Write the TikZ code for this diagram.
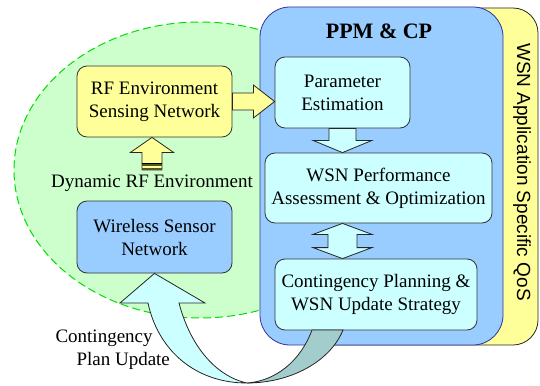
\documentclass[tikz,border=0pt]{standalone}
\usepackage{fontspec}
\setmainfont{Liberation Serif}
\newfontfamily\arialfont{Liberation Sans}
\usetikzlibrary{calc}
\definecolor{ellfill}{HTML}{CCFFCC}
\definecolor{elldraw}{HTML}{00DD00}
\definecolor{bluefill}{HTML}{99CCFF}
\definecolor{bluedraw}{HTML}{333399}
\definecolor{yelfill}{HTML}{FFFF99}
\definecolor{cyanfill}{HTML}{CCFFFF}
\definecolor{tealfill}{HTML}{A3CCCC}
\definecolor{stripe}{HTML}{555522}
\tikzset{
  txt/.style={font=\fontsize{19}{23}\selectfont, align=center},
  procbox/.style={txt, draw=black!80, line width=0.8pt, rounded corners=10pt, fill=cyanfill, inner sep=0pt},
  blockarrow/.style={draw=black!85, line width=0.8pt, line join=miter},
}
\begin{document}
\begin{tikzpicture}[x=1pt,y=-1pt]
\useasboundingbox (0,0) rectangle (540,385);
% dashed ellipse
\draw[fill=ellfill, draw=elldraw, line width=1pt, dash pattern=on 8pt off 4pt] (200,170) ellipse [x radius=186, y radius=148];
% yellow QoS box
\node[draw=black!85, line width=0.8pt, fill=yelfill, rounded corners=25pt, minimum width=238pt, minimum height=337pt, inner sep=0pt] (qos) at (419,176.5) {};
% blue PPM box
\node[draw=bluedraw, line width=0.8pt, fill=bluefill, rounded corners=30pt, minimum width=243pt, minimum height=338pt, inner sep=0pt] (ppm) at (381.5,176) {};
\node[font=\fontsize{22}{26}\selectfont\bfseries] (ppmlabel) at (379,31) {PPM \& CP};
\node[font=\arialfont\fontsize{19}{23}\selectfont, rotate=-90] (qoslabel) at (522,172) {WSN Application Specific QoS};
% boxes
\node[procbox, fill=yelfill, minimum width=155pt, minimum height=71pt] (rf) at (154.5,101.5) {RF Environment\\Sensing Network};
\node[procbox, fill=bluefill, minimum width=155pt, minimum height=72pt] (wsn) at (154.5,237) {Wireless Sensor\\Network};
\node[procbox, minimum width=135pt, minimum height=71pt] (param) at (342.5,92.5) {Parameter\\Estimation};
\node[procbox, minimum width=227pt, minimum height=70pt] (perf) at (378.5,188) {WSN Performance\\Assessment \& Optimization};
\node[procbox, minimum width=202pt, minimum height=71pt] (cont) at (376,294.5) {Contingency Planning \&\\WSN Update Strategy};
% RF -> Param
\draw[blockarrow, fill=yelfill] ($(rf.east)+(0,-8.5)$) -- ($(rf.east)+(21,-8.5)$) -- ($(rf.east)+(21,-16.5)$) -- (rf.east -| param.west) -- ($(rf.east)+(21,16.5)$) -- ($(rf.east)+(21,8.5)$) -- ($(rf.east)+(0,8.5)$) -- cycle;
% Param -> Perf
\draw[blockarrow, fill=cyanfill] ($(param.south)+(-13.5,0)$) -- ($(param.south)+(-13.5,12)$) -- ($(param.south)+(-29.5,12)$) -- (param.south |- perf.north) -- ($(param.south)+(29.5,12)$) -- ($(param.south)+(13.5,12)$) -- ($(param.south)+(13.5,0)$) -- cycle;
% Perf <-> Cont
\coordinate (dt) at (param.south |- perf.south);
\coordinate (db) at (param.south |- cont.north);
\draw[blockarrow, fill=cyanfill] (dt) -- ($(dt)+(29.5,11)$) -- ($(dt)+(14.5,11)$) -- ($(db)+(14.5,-11)$) -- ($(db)+(29.5,-11)$) -- (db) -- ($(db)+(-29.5,-11)$) -- ($(db)+(-14.5,-11)$) -- ($(dt)+(-14.5,11)$) -- ($(dt)+(-29.5,11)$) -- cycle;
% Dynamic RF -> RF box
\coordinate (dynb) at (152,170);
\coordinate (dyntip) at (dynb |- rf.south);
\draw[blockarrow, fill=yelfill] ($(dynb)+(-10,0)$) -- ($(dyntip)+(-10,15)$) -- ($(dyntip)+(-21.5,15)$) -- (dyntip) -- ($(dyntip)+(21.5,15)$) -- ($(dyntip)+(10,15)$) -- ($(dynb)+(10,0)$) -- cycle;
\fill[stripe] ($(dynb)+(-10,-6)$) rectangle ($(dynb)+(10,-3.8)$);
\fill[stripe] ($(dynb)+(-10,-2.4)$) rectangle ($(dynb)+(10,0)$);
\draw[black, line width=0.6pt] ($(dynb)+(-10,-6.5)$) -- ($(dynb)+(10,-6.5)$);
\node[txt] (dyn) at (152,183) {Dynamic RF Environment};
% curved update arrow
\coordinate (cl) at (312,330);
\coordinate (cr) at (343,330);
\coordinate (bot) at (247,383);
\draw[black!85, line width=0.8pt, fill=tealfill] (cl) .. controls (300,362) and (275,381) .. (bot) .. controls (290,383) and (330,362) .. (cr) -- cycle;
\coordinate (tip) at (wsn.south);
\draw[black!85, line width=0.8pt, fill=cyanfill] (120,303) -- (tip) -- (205,303) -- (179,303) .. controls (190,345) and (215,376) .. (bot) .. controls (195,383) and (158,350) .. (148,303) -- cycle;
\node[txt, align=left, anchor=west] (cpu) at (52,349.5) {Contingency\\\hspace*{21pt}Plan Update};
\end{tikzpicture}
\end{document}
